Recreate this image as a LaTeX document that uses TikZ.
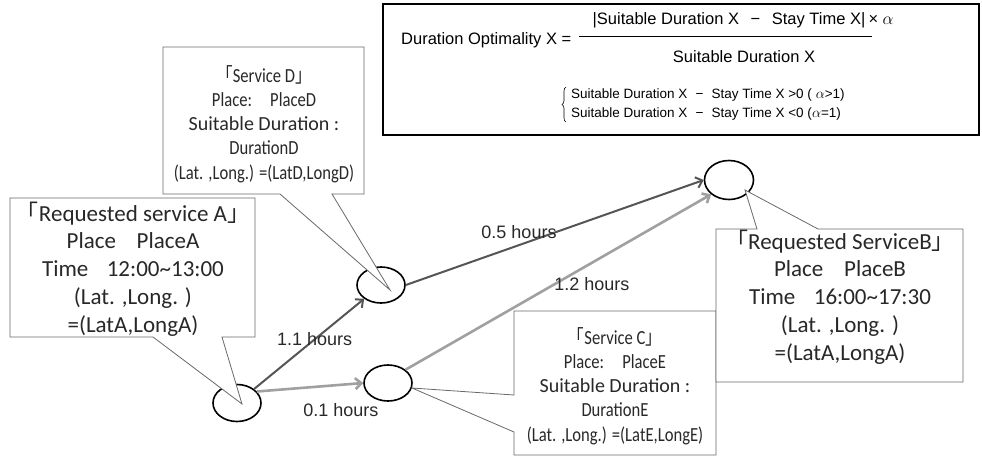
\documentclass[tikz,border=0pt]{standalone}
\usepackage{fontspec}
\usepackage{graphicx}
\setmainfont{Carlito}
\newfontfamily\gothic{Liberation Sans}
\newfontfamily\cjk{Noto Sans CJK JP}
\usetikzlibrary{arrows.meta,decorations.pathreplacing,shapes.geometric}
\definecolor{edgedark}{RGB}{85,85,85}
\definecolor{edgelight}{RGB}{160,160,160}
\definecolor{boxgray}{RGB}{105,105,105}
\definecolor{txtgray}{RGB}{40,40,40}

% corner brackets and squeezed lines for the service boxes
\newcommand{\kopen}{{\cjk 「}}
\newcommand{\kclose}{{\cjk 」}}
\newcommand{\narrow}[1]{\scalebox{0.83}[1]{#1}}

\begin{document}
\begin{tikzpicture}[x=1pt, y=-1pt,
  stop/.style={ellipse, draw, line width=1.6pt, minimum width=48pt,
    minimum height=37pt, inner sep=0pt},
  darkedge/.style={edgedark, line width=2pt, -{Straight Barb[length=6pt,width=11pt]}},
  lightedge/.style={edgelight, line width=2.6pt, -{Straight Barb[length=6pt,width=11pt]}},
  hours/.style={font=\gothic\fontsize{18}{20}\selectfont, text=txtgray, inner sep=0pt},
  callout/.style={draw=boxgray, fill=white, line width=0.8pt, line join=miter},
  reqtext/.style={align=center, text=txtgray, inner sep=0pt,
    font=\fontsize{23}{27.8}\selectfont},
  svctext/.style={align=center, text=txtgray, inner sep=0pt,
    font=\fontsize{20}{24.2}\selectfont},
  eqtext/.style={font=\gothic\fontsize{16.5}{19}\selectfont, inner sep=0pt},
  casetext/.style={font=\gothic\fontsize{13.5}{15}\selectfont, inner sep=0pt, anchor=west}]

  \useasboundingbox (0,0) rectangle (982,459);

  % ============================================================
  % FORMULA BOX
  % ============================================================
  \draw[line width=2pt] (383,4) rectangle (979,135);

  \node[eqtext, anchor=west] (optlabel) at (401,40) {Duration Optimality X =};
  \node[eqtext] (num) at (729,20)
    {|Suitable Duration X\hspace{0.7em}−\hspace{0.7em}Stay Time X|};
  \node[eqtext, anchor=west] (alpha) at (num.east) {\,× $\alpha$};
  \draw[line width=1pt] (579,36) -- (872,36);
  \node[eqtext] (den) at (744,57) {Suitable Duration X};

  % the two cases
  \draw[decorate, decoration={brace, amplitude=4pt}, line width=0.6pt]
    (566,122) -- (566,87);
  \node[casetext] (case1) at (571,95)
    {Suitable Duration X\hspace{0.6em}−\hspace{0.6em}Stay Time X >0 ( $\alpha$>1)};
  \node[casetext] (case2) at (571,114)
    {Suitable Duration X\hspace{0.6em}−\hspace{0.6em}Stay Time X <0 ($\alpha$=1)};

  % ============================================================
  % STOPS
  % ============================================================
  \node[stop] (a) at (237,403) {};
  \node[stop, minimum height=36pt] (d) at (381,285) {};
  \node[stop, minimum height=36pt] (c) at (388,383) {};
  \node[stop, minimum width=49pt, minimum height=39pt] (b) at (729,180) {};

  % ============================================================
  % TRAVEL TIMES
  % ============================================================
  \draw[darkedge] (a) -- node[hours, pos=0.55] {1.1 hours} (d);
  \draw[lightedge] (a.30) -- node[hours, pos=0.79, yshift=-25pt] {0.1 hours} (c.west);
  \draw[darkedge] (d.east) -- node[hours, pos=0.38, yshift=13pt] {0.5 hours} (b.west);
  \draw[lightedge] (c.north east) -- node[hours, pos=0.61, yshift=-21pt] {1.2 hours} (b.south west);

  % ============================================================
  % CALLOUTS
  % ============================================================
  % requested service A
  \draw[callout] (10,198) -- (255,198) -- (255,337) -- (222,337)
    -- ([shift={(5,1)}]a.center) -- (153,337) -- (10,337) -- cycle;
  \node[reqtext] (reqA) at (133,269) {%
    \kopen Requested service A\kclose\\
    Place\hspace{0.9em}PlaceA\\
    Time\hspace{0.8em}12:00\textasciitilde 13:00\\
    (Lat. ,Long. )\\
    =(LatA,LongA)};

  % service D
  \draw[callout] (163,47) -- (364,47) -- (364,194) -- (332,194)
    -- ([shift={(9,5)}]d.center) -- (280,194) -- (163,194) -- cycle;
  \node[svctext] (svcD) at (264,124) {%
    \narrow{\kopen Service D\kclose}\\
    \narrow{Place:\hspace{1.1em}PlaceD}\\
    Suitable Duration :\\
    \narrow{DurationD}\\
    \narrow{(Lat. ,Long.) =(LatD,LongD)}};

  % service C
  \draw[callout] (514,311) -- (716,311) -- (716,455) -- (514,455) -- (514,432)
    -- ([shift={(24,5)}]c.center) -- (514,395) -- cycle;
  \node[svctext] (svcC) at (615,386) {%
    \narrow{\kopen Service C\kclose}\\
    \narrow{Place:\hspace{1.1em}PlaceE}\\
    Suitable Duration :\\
    \narrow{DurationE}\\
    \narrow{(Lat. ,Long.) =(LatE,LongE)}};

  % requested service B
  \draw[callout] (716,229) -- (757,229) -- ([shift={(16,10)}]b.center)
    -- (818,229) -- (963,229) -- (963,382) -- (716,382) -- cycle;
  \node[reqtext] (reqB) at (840,297) {%
    \kopen Requested ServiceB\kclose\\
    Place\hspace{0.9em}PlaceB\\
    Time\hspace{0.8em}16:00\textasciitilde 17:30\\
    (Lat. ,Long. )\\
    =(LatA,LongA)};

\end{tikzpicture}
\end{document}
